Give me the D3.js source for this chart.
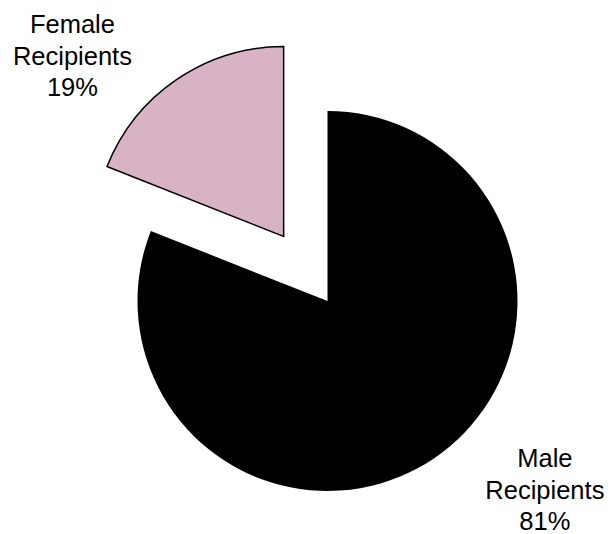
<!DOCTYPE html>
<html>
<head>
<meta charset="utf-8">
<script src="https://cdn.jsdelivr.net/npm/d3@7"></script>
<style>
  body { margin: 0; background: #fff; }
  text { font-family: "Liberation Sans", Arial, sans-serif; }
</style>
</head>
<body>
<svg id="chart" width="611" height="534"></svg>
<script>
// slice data, clockwise from 12 o'clock
const categories = ["Male Recipients", "Female Recipients"];
const shortNames = [["Male", "Recipients"], ["Female", "Recipients"]];
const percents = [81, 19];
const colors = ["#000000", "#d8b2c5"];
const exploded = [false, true];

let width = 611;
let height = 534;
let cx = 327.5, cy = 301;
let radius = 190;
let explodeDist = 78;

// label anchor: angle (deg clockwise from top) and distance from centre
const labelAnchor = [
    {angle: 131, dist: 288},
    {angle: 313.9, dist: 354}
];

let svg = d3.select("#chart");

let data = categories.map((c, i) => ({
    name: c,
    lines: shortNames[i],
    value: percents[i],
    color: colors[i],
    exploded: exploded[i]
}));

let pie = d3.pie()
    .sort(null)
    .value(d => d.value);

let arc = d3.arc()
    .innerRadius(0)
    .outerRadius(radius);

let arcs = pie(data);

let g = svg.append("g")
    .attr("transform", `translate(${cx},${cy})`);

g.selectAll("path")
    .data(arcs)
    .enter()
    .append("path")
        .attr("d", arc)
        .attr("transform", d => {
            if (!d.data.exploded) return null;
            let mid = (d.startAngle + d.endAngle) / 2;
            return `translate(${Math.sin(mid) * explodeDist},${-Math.cos(mid) * explodeDist})`;
        })
        .style("fill", d => d.data.color)
        .style("stroke", "#000")
        .style("stroke-width", d => d.data.exploded ? 1.5 : 0)
        .style("stroke-linejoin", "miter");

let lineH = 31.5;

let labels = g.selectAll("text.lbl")
    .data(arcs)
    .enter()
    .append("text")
        .attr("class", "lbl")
        .attr("text-anchor", "middle")
        .style("font-size", "25.5px")
        .style("fill", "#000")
        .attr("transform", (d, i) => {
            let a = labelAnchor[i].angle * Math.PI / 180;
            let r = labelAnchor[i].dist;
            return `translate(${Math.sin(a) * r},${-Math.cos(a) * r})`;
        });

labels.each(function(d) {
    let t = d3.select(this);
    let lines = d.data.lines.concat([d3.format("d")(d.data.value) + "%"]);
    lines.forEach((s, k) => {
        t.append("tspan")
            .attr("x", 0)
            .attr("y", (k - 1) * lineH + 9)
            .text(s);
    });
});
</script>
</body>
</html>
